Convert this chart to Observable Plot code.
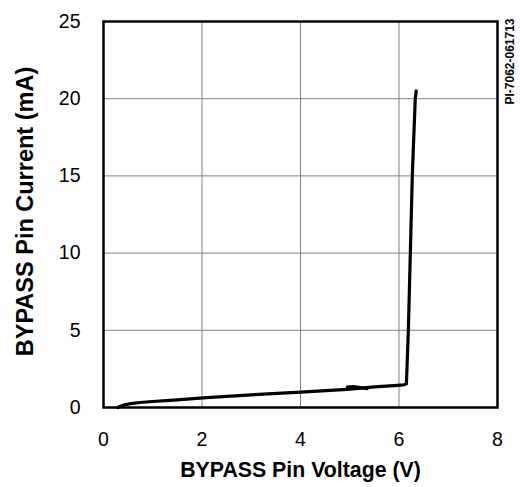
<!DOCTYPE html>
<html>
<head>
<meta charset="utf-8">
<script src="https://cdn.jsdelivr.net/npm/d3@7"></script>
<script src="https://cdn.jsdelivr.net/npm/@observablehq/plot@0.6"></script>
<style>
  html, body { margin: 0; padding: 0; background: #fff; }
  #chart svg { font-family: "Liberation Sans", Arial, sans-serif; }
</style>
</head>
<body>
<div id="chart"></div>
<script>
// Main I-V curve: BYPASS pin voltage (V) vs current (mA)
const voltage = [0.29, 0.36, 0.43, 0.52, 0.63, 0.8, 1.0, 1.5, 2.02, 3.0, 4.0, 4.95, 5.5, 5.9, 6.1, 6.15, 6.19, 6.23, 6.27, 6.33, 6.35];
const current = [0.0, 0.1, 0.17, 0.23, 0.28, 0.34, 0.39, 0.5, 0.62, 0.82, 1.0, 1.18, 1.33, 1.42, 1.47, 1.53, 5, 10, 15, 20, 20.5];
// Short hysteresis overlap segment
const hystVoltage = [4.95, 5.08, 5.35];
const hystCurrent = [1.32, 1.36, 1.22];

const xTicks = [0, 2, 4, 6, 8];
const yTicks = [0, 5, 10, 15, 20, 25];

const main = voltage.map((v, i) => ({v, i: current[i]}));
const hyst = hystVoltage.map((v, i) => ({v, i: hystCurrent[i]}));

const chart = Plot.plot({
  width: 522,
  height: 487,
  marginLeft: 103,
  marginRight: 25,
  marginTop: 21,
  marginBottom: 80,
  style: {fontFamily: "'Liberation Sans', Arial, sans-serif", background: "#fff"},
  x: {domain: [0, 8]},
  y: {domain: [0, 25]},
  marks: [
    Plot.gridX(xTicks.slice(1, -1), {stroke: "#808080", strokeOpacity: 1, strokeWidth: 1}),
    Plot.gridY(yTicks.slice(1, -1), {stroke: "#808080", strokeOpacity: 1, strokeWidth: 1}),
    Plot.axisX(xTicks, {tickSize: 0, tickPadding: 25, fontSize: 19.5, label: null, fill: "#000"}),
    Plot.axisY(yTicks, {tickSize: 0, tickPadding: 23, fontSize: 19.5, label: null, fill: "#000"}),
    Plot.frame({stroke: "#000", strokeWidth: 2.5}),
    Plot.line(main, {x: "v", y: "i", stroke: "#000", strokeWidth: 3.2, curve: "linear"}),
    Plot.line(hyst, {x: "v", y: "i", stroke: "#000", strokeWidth: 3.2}),
    Plot.text(["BYPASS Pin Voltage (V)"], {frameAnchor: "bottom", dy: 63, textAnchor: "middle", lineAnchor: "middle", fontSize: 21.3, fontWeight: "bold", fill: "#000"}),
    Plot.text(["BYPASS Pin Current (mA)"], {frameAnchor: "left", dx: -78, dy: -3, textAnchor: "middle", lineAnchor: "middle", rotate: -90, fontSize: 23.5, fontWeight: "bold", fill: "#000"}),
    Plot.text(["PI-7062-061713"], {frameAnchor: "top-right", dx: 13, dy: 40, textAnchor: "middle", lineAnchor: "middle", rotate: -90, fontSize: 12, fontWeight: "bold", fill: "#000"})
  ]
});
document.getElementById("chart").appendChild(chart);
</script>
</body>
</html>
